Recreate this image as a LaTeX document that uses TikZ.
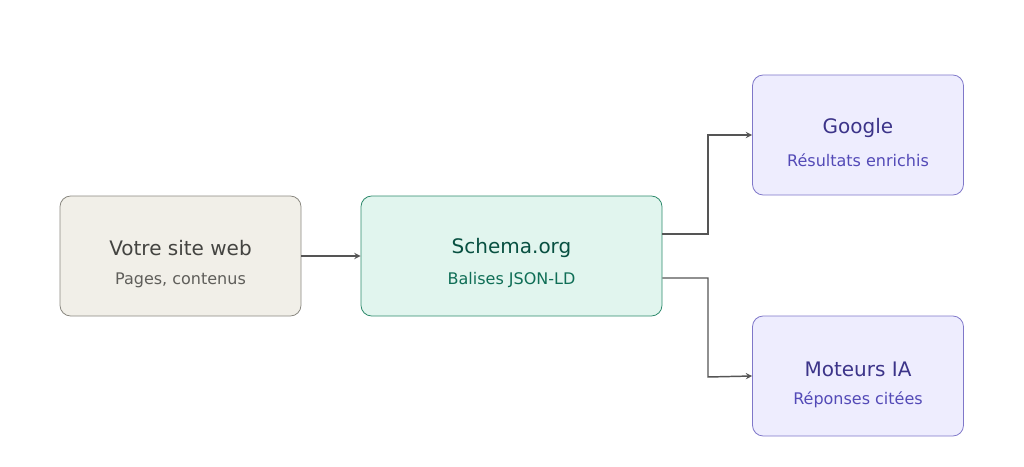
\documentclass[tikz,border=0pt]{standalone}
\usepackage{fontspec}
\setmainfont{DejaVu Sans}
\usetikzlibrary{positioning}
\definecolor{siteFill}{HTML}{F1EFE8}
\definecolor{siteLine}{HTML}{8A8880}
\definecolor{siteText}{HTML}{444441}
\definecolor{siteSub}{HTML}{5F5E5A}
\definecolor{schemaFill}{HTML}{E1F5EE}
\definecolor{schemaLine}{HTML}{2E8A6C}
\definecolor{schemaText}{HTML}{085041}
\definecolor{schemaSub}{HTML}{0F6E56}
\definecolor{outFill}{HTML}{EEEDFE}
\definecolor{outLine}{HTML}{7F77C9}
\definecolor{outText}{HTML}{3C3489}
\definecolor{outSub}{HTML}{534AB7}
\definecolor{arrowGray}{HTML}{555555}
\tikzset{
  box/.style={rounded corners=8pt, line width=0.6pt, minimum height=90pt, align=center, inner sep=0pt},
  title/.style={font=\fontsize{15}{18}\selectfont},
  sub/.style={font=\fontsize{12}{15}\selectfont},
  link/.style={draw=arrowGray, line width=1.1pt, ->, >=stealth}
}
\begin{document}
\begin{tikzpicture}[x=0.75pt,y=-0.75pt]
\useasboundingbox (0,0) rectangle (1024,467);

% boxes
\node (site) [box, fill=siteFill, draw=siteLine, minimum width=180.75pt] at (180.5,256) {};
\node (schema) [box, fill=schemaFill, draw=schemaLine, minimum width=225.75pt] at (511.5,256) {};
\node (google) [box, fill=outFill, draw=outLine, minimum width=158.25pt] at (858,135) {};
\node (ia) [box, fill=outFill, draw=outLine, minimum width=158.25pt] at (858,376) {};

% texts
\node [title, text=siteText] at (180.5,248) {Votre site web};
\node [sub, text=siteSub] at (180.5,280) {Pages, contenus};
\node [title, text=schemaText] at (511.5,248) {Schema.org};
\node [sub, text=schemaSub] at (511.5,280) {Balises JSON-LD};
\node [title, text=outText] at (858,128) {Google};
\node [sub, text=outSub] at (858,160) {Résultats enrichis};
\node [title, text=outText] at (858,369) {Moteurs IA};
\node [sub, text=outSub] at (858,400) {Réponses citées};

% connectors
\draw [link] ([yshift=0pt]site.east) -- (schema.west);
\draw [link] ([yshift=16.5pt]schema.east) -| (708,135) -- (google.west);
\draw [link] ([yshift=-16.5pt]schema.east) -| (708,377) -- (ia.west);
\end{tikzpicture}
\end{document}
